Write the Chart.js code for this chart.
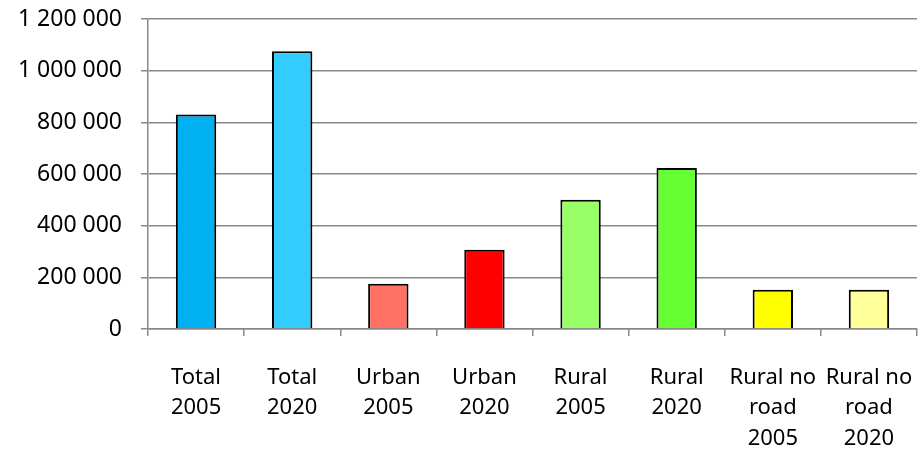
<!DOCTYPE html>
<html>
<head>
<meta charset="utf-8">
<script src="https://cdn.jsdelivr.net/npm/chart.js@4/dist/chart.umd.min.js"></script>
<style>
  html, body { margin: 0; padding: 0; background: #fff; }
  #wrap { width: 923px; height: 450px; }
</style>
</head>
<body>
<div id="wrap"><canvas id="c" width="923" height="450"></canvas></div>
<script>
const categories = [
  ["Total", "2005"], ["Total", "2020"],
  ["Urban", "2005"], ["Urban", "2020"],
  ["Rural", "2005"], ["Rural", "2020"],
  ["Rural no", "road", "2005"], ["Rural no", "road", "2020"]
];
const values = [830000, 1075000, 175000, 307000, 500000, 623000, 152000, 152000];
const barColors = ["#00B0F0", "#33CCFF", "#FF7164", "#FF0000", "#99FF66", "#66FF33", "#FFFF00", "#FFFF99"];
const yTicks = [0, 200000, 400000, 600000, 800000, 1000000, 1200000];

function fmt(v) {
  return String(v).replace(/\B(?=(\d{3})+(?!\d))/g, " ");
}

const FONT = "'Noto Sans', 'Open Sans', sans-serif";

new Chart(document.getElementById("c"), {
  type: "bar",
  data: {
    labels: categories,
    datasets: [{
      data: values,
      backgroundColor: barColors,
      borderColor: "#000000",
      borderWidth: 2,
      categoryPercentage: 1.0,
      barPercentage: 0.42
    }]
  },
  options: {
    responsive: false,
    animation: false,
    devicePixelRatio: 1,
    layout: { padding: { top: 19, right: 6, left: 0, bottom: 0 } },
    plugins: { legend: { display: false }, tooltip: { enabled: false } },
    scales: {
      x: {
        offset: true,
        grid: { drawOnChartArea: false, drawTicks: true, tickLength: 7, offset: true, color: "#888888", lineWidth: 1.5 },
        border: { display: true, color: "#888888", width: 1.5 },
        ticks: {
          color: "#000000",
          font: { family: FONT, size: 22, lineHeight: 1.4 },
          padding: 26,
          maxRotation: 0,
          autoSkip: false
        },
        afterFit: (axis) => { axis.height = 121; axis.paddingLeft = 0; axis.paddingRight = 0; }
      },
      y: {
        min: 0,
        max: 1200000,
        afterBuildTicks: (axis) => { axis.ticks = yTicks.map(v => ({ value: v })); },
        grid: { color: "#888888", lineWidth: 1.5, tickLength: 7, drawTicks: true },
        border: { display: true, color: "#888888", width: 1.5 },
        ticks: {
          color: "#000000",
          font: { family: FONT, size: 23 },
          padding: 19,
          callback: (v) => fmt(v)
        },
        afterFit: (axis) => { axis.width = 148; axis.paddingTop = 0; axis.paddingBottom = 0; }
      }
    }
  }
});
</script>
</body>
</html>
